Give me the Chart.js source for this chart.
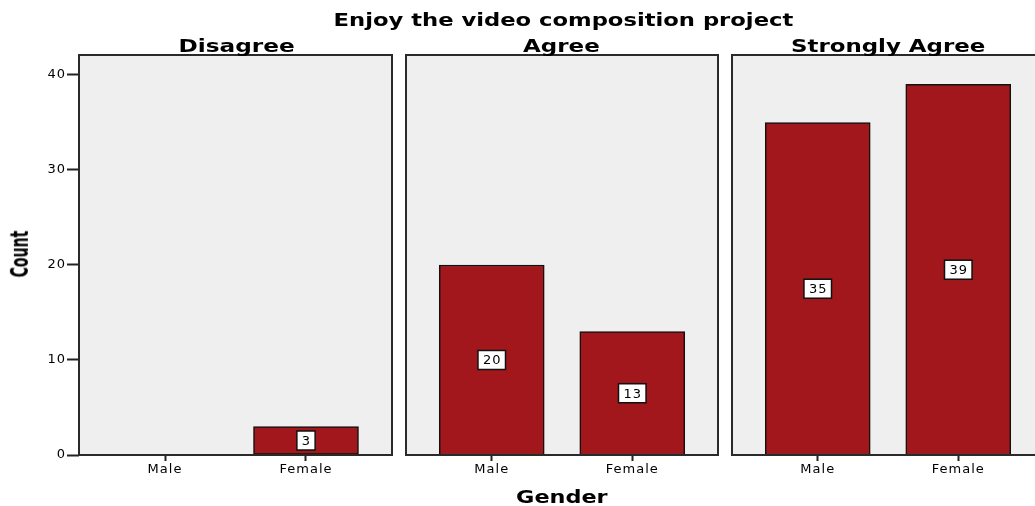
<!DOCTYPE html>
<html>
<head>
<meta charset="utf-8">
<script src="https://cdn.jsdelivr.net/npm/chart.js@4.4.0/dist/chart.umd.min.js"></script>
<style>
body { margin:0; width:1035px; height:506px; overflow:hidden; background:#fff; position:relative; font-family:'DejaVu Sans', sans-serif; }
canvas { position:absolute; top:0; }
.lbl { position:absolute; font-weight:bold; font-size:17px; line-height:17px; white-space:nowrap; color:#000; transform-origin:center center; }
</style>
</head>
<body>
<canvas id="c0" width="400" height="506" style="left:0"></canvas>
<canvas id="c1" width="324" height="506" style="left:400px"></canvas>
<canvas id="c2" width="324" height="506" style="left:726px"></canvas>

<script>
// data
const responses = ['Disagree', 'Agree', 'Strongly Agree']
const genders = ['Male', 'Female']
const maleCounts = [0, 20, 35]
const femaleCounts = [3, 13, 39]
const yTicks = [0, 10, 20, 30, 40]

const BAR_RED = '#a1171b'
const PANEL_BG = '#efefef'
const FONT = "'DejaVu Sans', sans-serif"

// panel frame + value boxes
const panelPlugin = {
    id: 'panel',
    beforeDraw(chart) {
        const a = chart.chartArea
        const ctx = chart.ctx
        ctx.letterSpacing = '1px'   // wide spss-style lettering
        ctx.save()
        ctx.fillStyle = PANEL_BG
        ctx.fillRect(a.left, a.top, a.right - a.left, a.bottom - a.top)
        ctx.restore()
    },
    afterDatasetsDraw(chart) {
        const a = chart.chartArea
        const ctx = chart.ctx
        ctx.save()
        ctx.strokeStyle = '#2a2a2a'
        ctx.lineWidth = 2
        ctx.strokeRect(a.left, a.top, a.right - a.left, a.bottom - a.top)

        ctx.font = '13px ' + FONT
        ctx.textAlign = 'center'
        ctx.textBaseline = 'middle'
        const meta = chart.getDatasetMeta(0)
        meta.data.forEach((bar, i) => {
            const raw = chart.data.datasets[0].data[i]
            const txt = String(raw.y)
            const cy = (bar.y + bar.base) / 2
            const w = ctx.measureText(txt).width + 9
            const h = 19
            ctx.fillStyle = '#fff'
            ctx.fillRect(bar.x - w / 2, cy - h / 2, w, h)
            ctx.strokeStyle = '#111'
            ctx.lineWidth = 1.5
            ctx.strokeRect(bar.x - w / 2, cy - h / 2, w, h)
            ctx.fillStyle = '#000'
            ctx.fillText(txt, bar.x + 0.5, cy + 1)
        })
        ctx.restore()
    }
}

function makePanel(canvasId, p) {
    const first = p === 0
    const counts = [maleCounts[p], femaleCounts[p]]
    const points = []
    counts.forEach((c, gi) => {
        if (c > 0) points.push({ x: gi, y: c })
    })

    new Chart(document.getElementById(canvasId), {
        type: 'bar',
        data: {
            datasets: [{
                data: points,
                backgroundColor: BAR_RED,
                borderColor: '#111',
                borderWidth: 1.5,
                borderSkipped: false,
                barThickness: 105
            }]
        },
        options: {
            responsive: false,
            animation: false,
            layout: { padding: { top: 55, bottom: 21, left: first ? 0 : 6, right: first ? 8 : 6 } },
            plugins: { legend: { display: false }, tooltip: { enabled: false } },
            scales: {
                x: {
                    type: 'linear',
                    offset: false,
                    min: -0.61,
                    max: 1.61,
                    afterBuildTicks: s => { s.ticks = genders.map((g, i) => ({ value: i })) },
                    afterFit: s => { s.height = 30 },
                    ticks: {
                        callback: v => genders[v],
                        font: { size: 13, family: FONT },
                        color: '#000',
                        padding: 1,
                        maxRotation: 0,
                        autoSkip: false
                    },
                    grid: { display: true, offset: false, drawOnChartArea: false, drawTicks: true, tickLength: 6, tickWidth: 2, tickColor: '#222' },
                    border: { display: false }
                },
                y: {
                    display: first,
                    min: 0,
                    max: 42.1,
                    afterBuildTicks: s => { s.ticks = yTicks.map(v => ({ value: v })) },
                    afterFit: s => { if (first) s.width = 79 },
                    ticks: { font: { size: 13, family: FONT }, color: '#000', padding: 1 },
                    grid: { display: true, drawOnChartArea: false, drawTicks: true, tickLength: 12, tickWidth: 2, tickColor: '#222' },
                    border: { display: false }
                }
            }
        },
        plugins: [panelPlugin]
    })
}

makePanel('c0', 0)
makePanel('c1', 1)
makePanel('c2', 2)

// titles as html text, stretched to the widths in the picture
function addLabel(text, cx, baseline, targetW, opts = {}) {
    const el = document.createElement('span')
    el.className = 'lbl'
    el.textContent = text
    if (opts.family) el.style.fontFamily = opts.family
    if (opts.size) { el.style.fontSize = opts.size + 'px'; el.style.lineHeight = opts.size + 'px' }
    document.body.appendChild(el)
    const w = el.offsetWidth
    const h = el.offsetHeight
    const k = targetW / w
    if (opts.rotate) {
        el.style.left = (cx - w / 2) + 'px'
        el.style.top = (baseline - h / 2) + 'px'
        el.style.transform = `rotate(-90deg) scaleX(${k})`
    } else {
        const size = opts.size || 17
        el.style.left = (cx - w / 2) + 'px'
        el.style.top = (baseline - 0.846 * size) + 'px'
        el.style.transform = `scaleX(${k})`
    }
}

addLabel('Enjoy the video composition project', 563, 26, 460)
addLabel(responses[0], 236, 52.5, 116)
addLabel(responses[1], 561.5, 52.5, 77)
addLabel(responses[2], 888, 52.5, 194)
addLabel('Gender', 562, 503, 92)
addLabel('Count', 19.5, 253.5, 47, { family: "'Liberation Sans Narrow', 'DejaVu Sans Condensed', sans-serif", size: 24, rotate: true })
</script>
</body>
</html>
